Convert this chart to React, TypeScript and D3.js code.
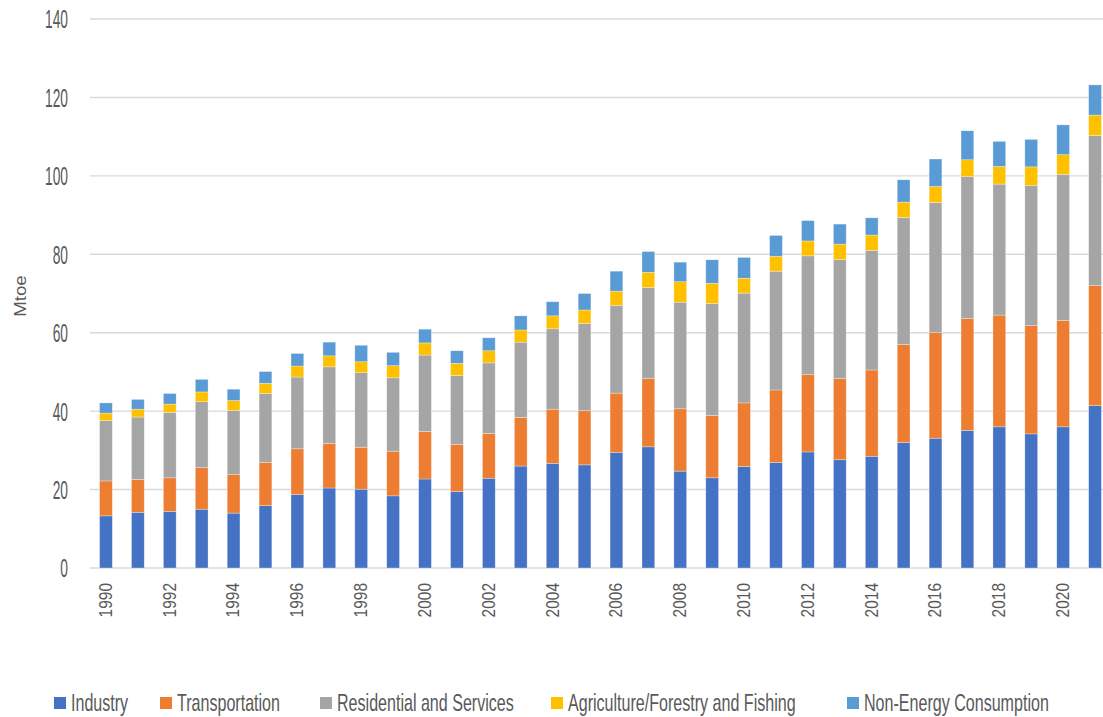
import * as d3 from 'd3';

const years = d3.range(1990, 2022);

const industry = [
  13.3, 14.2, 14.4, 15.0, 14.0, 15.9, 18.7, 20.4, 20.1, 18.4,
  22.7, 19.5, 22.9, 26.0, 26.7, 26.3, 29.5, 30.9, 24.7, 23.0,
  25.9, 26.9, 29.6, 27.6, 28.5, 32.0, 33.1, 35.1, 36.0, 34.2, 36.0, 41.4,
];
const transportation = [
  8.9, 8.4, 8.6, 10.6, 9.8, 11.0, 11.7, 11.4, 10.7, 11.4,
  12.1, 12.0, 11.4, 12.4, 13.8, 13.8, 15.1, 17.4, 15.9, 15.9,
  16.2, 18.5, 19.7, 20.7, 22.0, 25.0, 26.9, 28.5, 28.5, 27.6, 27.1, 30.6,
];
const residential = [
  15.4, 15.9, 16.7, 16.8, 16.4, 17.6, 18.3, 19.5, 19.0, 18.7,
  19.5, 17.6, 18.0, 19.2, 20.5, 22.3, 22.4, 23.2, 27.2, 28.6,
  28.0, 30.3, 30.3, 30.4, 30.5, 32.4, 33.2, 36.2, 33.4, 35.8, 37.3, 38.3,
];
const agriculture = [
  1.9, 2.0, 2.1, 2.5, 2.5, 2.6, 2.8, 2.8, 2.8, 3.1,
  3.1, 3.1, 3.1, 3.1, 3.3, 3.4, 3.6, 3.9, 5.2, 5.1,
  3.8, 3.8, 3.8, 3.9, 3.9, 3.9, 4.1, 4.3, 4.5, 4.7, 5.0, 5.2,
];
const nonEnergy = [
  2.6, 2.5, 2.7, 3.2, 2.9, 3.0, 3.2, 3.5, 4.2, 3.4,
  3.5, 3.2, 3.3, 3.6, 3.6, 4.2, 5.1, 5.3, 5.0, 6.0,
  5.3, 5.3, 5.2, 5.1, 4.4, 5.7, 7.0, 7.4, 6.4, 7.0, 7.6, 7.7,
];

const seriesNames = [
  'Industry',
  'Transportation',
  'Residential and Services',
  'Agriculture/Forestry and Fishing',
  'Non-Energy Consumption',
];
const colors = ['#4472C4', '#ED7D31', '#A5A5A5', '#FFC000', '#5B9BD5'];
const yTicks = [0, 20, 40, 60, 80, 100, 120, 140];

const W = 1103;
const H = 717;
const FONT = "'Liberation Sans', Arial, sans-serif";
const TEXT = '#595959';

export default function App() {
  const rows = years.map((yr, i) => ({
    year: String(yr),
    s0: industry[i],
    s1: transportation[i],
    s2: residential[i],
    s3: agriculture[i],
    s4: nonEnergy[i],
  }));
  const keys = ['s0', 's1', 's2', 's3', 's4'];
  const stacked = d3.stack<any>().keys(keys)(rows);

  const x = d3
    .scaleBand<string>()
    .domain(rows.map((r) => r.year))
    .range([90, 1111])
    .paddingInner(0.6)
    .paddingOuter(0.3);
  const y = d3.scaleLinear().domain([0, 140]).range([568, 19]);

  const legendX = [54, 160, 320, 551, 847];

  return (
    <div style={{ position: 'absolute', left: 0, top: 0 }}>
      <svg width={W} height={H} style={{ display: 'block', background: '#fff' }}>
        {/* grid */}
        {yTicks.map((t) => (
          <line key={t} x1={90} x2={W} y1={y(t)} y2={y(t)} stroke="#d9d9d9" strokeWidth={1.4} />
        ))}
        {yTicks.map((t) => (
          <text
            key={'l' + t}
            transform={`translate(68,${y(t)}) scale(0.53,1)`}
            textAnchor="end"
            dominantBaseline="central"
            fontFamily={FONT}
            fontSize={26}
            fill={TEXT}
          >
            {t}
          </text>
        ))}
        <text
          transform={`translate(20,296) rotate(-90) scale(1.1,1)`}
          textAnchor="middle"
          dominantBaseline="central"
          fontFamily={FONT}
          fontSize={17}
          fill={TEXT}
        >
          Mtoe
        </text>

        {/* bars */}
        {stacked.map((layer, si) => (
          <g key={layer.key} fill={colors[si]}>
            {layer.map((d: any) => (
              <rect
                key={d.data.year}
                x={x(d.data.year)}
                y={y(d[1])}
                width={x.bandwidth()}
                height={y(d[0]) - y(d[1])}
                stroke="#ffffff"
                strokeOpacity={0.5}
                strokeWidth={0.6}
              />
            ))}
          </g>
        ))}

        {/* x labels, every other year */}
        {rows
          .filter((_, i) => i % 2 === 0)
          .map((r) => (
            <text
              key={r.year}
              transform={`translate(${(x(r.year) as number) + x.bandwidth() / 2},583) rotate(-90) scale(0.86,1)`}
              textAnchor="end"
              dominantBaseline="central"
              fontFamily={FONT}
              fontSize={18}
              fill={TEXT}
            >
              {r.year}
            </text>
          ))}

        {/* legend */}
        {seriesNames.map((name, i) => (
          <g key={name}>
            <rect x={legendX[i]} y={697} width={12} height={12} fill={colors[i]} />
            <text
              transform={`translate(${legendX[i] + 17},703) scale(0.67,1)`}
              dominantBaseline="central"
              fontFamily={FONT}
              fontSize={24}
              fill={TEXT}
            >
              {name}
            </text>
          </g>
        ))}
      </svg>
    </div>
  );
}
